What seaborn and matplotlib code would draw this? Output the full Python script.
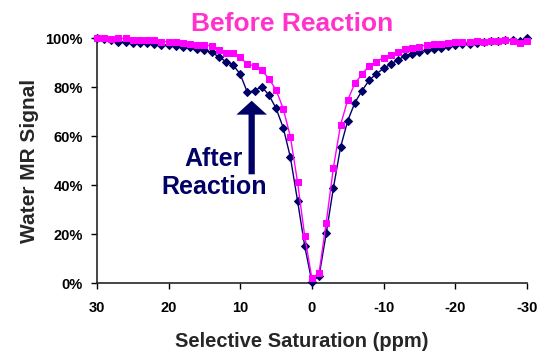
import matplotlib
matplotlib.use("Agg")
import matplotlib.pyplot as plt
import seaborn as sns
import pandas as pd
from matplotlib.ticker import PercentFormatter

# Selective saturation offsets (ppm), 30 -> -30
ppm = list(range(30, -31, -1))

# Water MR signal (%), before reaction (pink squares)
before = [100, 100, 99.6, 100, 100, 99.4, 99.4, 99.4, 99.4, 98.7,
          98.7, 98.4, 98.0, 97.8, 97.3, 97.2, 97.1, 95.3, 94.0, 94.0,
          92.3, 89.4, 88.9, 87.0, 83.6, 79.0, 71.3, 59.9, 41.3, 19.3,
          2.0, 4.3, 24.8, 47.2, 64.7, 74.9, 81.7, 85.4, 88.9, 90.5,
          92.2, 93.3, 94.6, 95.6, 96.0, 96.7, 97.3, 97.6, 97.8, 98.3,
          98.4, 98.4, 98.4, 99.0, 98.4, 99.0, 99.1, 99.4, 99.0, 98.3,
          99.1]

# Water MR signal (%), after reaction (navy diamonds)
after = [100, 99.6, 99.3, 98.7, 98.7, 98.3, 98.0, 98.0, 97.8, 97.5,
         97.3, 97.0, 96.7, 96.7, 95.8, 95.2, 94.3, 92.6, 90.5, 89.2,
         85.4, 78.0, 78.7, 80.3, 76.9, 71.5, 63.6, 51.5, 33.7, 15.2,
         0.7, 3.0, 20.4, 39.0, 55.6, 66.4, 73.8, 78.7, 83.0, 85.5,
         87.8, 89.5, 91.2, 92.9, 93.8, 94.6, 95.3, 95.7, 96.3, 97.0,
         97.4, 97.7, 97.8, 98.1, 98.4, 98.8, 99.0, 99.2, 99.5, 99.0,
         100]

x_ticks = [30, 20, 10, 0, -10, -20, -30]

df_before = pd.DataFrame({"ppm": ppm, "signal": [v / 100 for v in before]})
df_after = pd.DataFrame({"ppm": ppm, "signal": [v / 100 for v in after]})

sns.set_theme(style="ticks")
plt.rcParams["font.family"] = ["Liberation Sans", "DejaVu Sans"]
plt.rcParams["font.weight"] = "bold"
plt.rcParams["axes.unicode_minus"] = False

fig = plt.figure(figsize=(5.41, 3.56), dpi=100)
ax = fig.add_axes([0.179, 0.204, 0.795, 0.688])

navy = "#000066"
pink = "#FF00FF"

sns.lineplot(data=df_after, x="ppm", y="signal", ax=ax, color=navy,
             marker="D", markersize=4.4, markeredgecolor=navy,
             linewidth=1.0, clip_on=False, zorder=3)
sns.lineplot(data=df_before, x="ppm", y="signal", ax=ax, color=pink,
             marker="s", markersize=5.0, markeredgecolor=pink,
             linewidth=1.0, clip_on=False, zorder=4)

ax.set_xlim(30, -30)
ax.set_ylim(0, 1)
ax.set_xticks(x_ticks)
ax.set_yticks([0, 0.2, 0.4, 0.6, 0.8, 1.0])
ax.yaxis.set_major_formatter(PercentFormatter(1.0, decimals=0))
ax.tick_params(axis="both", direction="out", length=4, width=1,
               labelsize=10.5, colors="black")
ax.tick_params(axis="x", pad=9)
ax.tick_params(axis="y", pad=6)
for lab in ax.get_xticklabels() + ax.get_yticklabels():
    lab.set_fontweight("bold")
ax.spines["top"].set_visible(False)
ax.spines["right"].set_visible(False)
ax.spines["left"].set_linewidth(1.2)
ax.spines["bottom"].set_linewidth(1.2)

ax.set_xlabel("Selective Saturation (ppm)", fontsize=14.5, fontweight="bold")
ax.set_ylabel("Water MR Signal", fontsize=15, fontweight="bold")
ax.xaxis.set_label_coords(0.477, -0.2)
ax.yaxis.set_label_coords(-0.135, 0.5)

fig.text(0.54, 0.933, "Before Reaction", color="#FF33CC", fontsize=19,
         fontweight="bold", ha="center", va="center")

ax.annotate("", xy=(8.4, 0.757), xytext=(8.4, 0.434),
            arrowprops=dict(arrowstyle="simple,head_width=2.2,head_length=1.0,tail_width=0.45",
                            mutation_scale=10, color=navy, lw=0))
ax.text(13.7, 0.452, "After\nReaction", color=navy, fontsize=18,
        fontweight="bold", ha="center", va="center", multialignment="center",
        linespacing=1.2)

fig.savefig("out.png", dpi=100)
